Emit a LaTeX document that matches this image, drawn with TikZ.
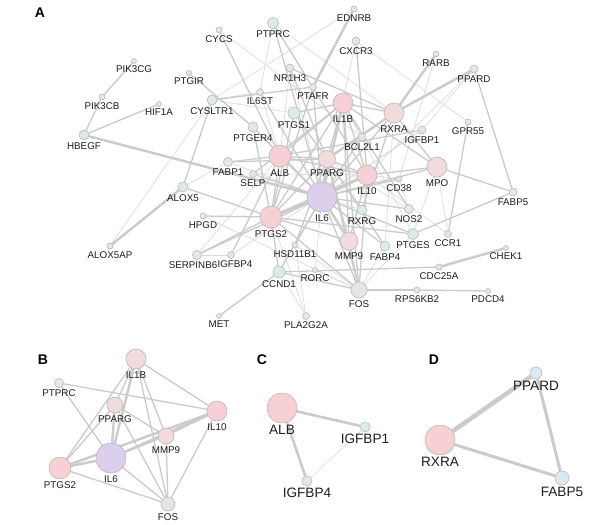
\documentclass[tikz,border=0pt]{standalone}
\usepackage{fontspec}
\setmainfont{Liberation Sans}
\usetikzlibrary{backgrounds}
\definecolor{pinkA}{RGB}{246,208,212}
\definecolor{pinkB}{RGB}{241,219,221}
\definecolor{lav}{RGB}{219,207,236}
\definecolor{tealn}{RGB}{221,234,231}
\definecolor{bluen}{RGB}{220,233,239}
\definecolor{fosg}{RGB}{229,229,229}
\definecolor{nline}{RGB}{178,178,178}
\definecolor{eline}{RGB}{203,203,203}
\definecolor{elight}{RGB}{220,220,220}
\definecolor{txt}{RGB}{30,30,30}
\tikzset{
  gene/.style={circle, draw=nline, line width=0.5pt, inner sep=0pt, minimum size=#1},
  labA/.style={font=\fontsize{9.8}{10}\selectfont, inner sep=1pt, text=txt},
  labC/.style={font=\fontsize{13.6}{14}\selectfont, inner sep=1pt, text=txt},
  panel/.style={font=\fontsize{14}{14}\selectfont\bfseries, text=black},
  eT/.style={draw=eline, line width=2.4pt},
  eM/.style={draw=eline, line width=1.3pt},
  eL/.style={draw=elight, line width=0.7pt},
}
\newcommand{\gA}[5]{\node[gene=#4*2pt, fill=#5, label={[labA]below:#1}] (#1) at (#2,#3) {};}
\begin{document}
\begin{tikzpicture}[x=1pt, y=-1pt, label distance=1pt]
\useasboundingbox (0,0) rectangle (600,525);
% ---------- Panel A ----------
\node[panel] (pA) at (40,13) {A};
\gA{CYCS}{219}{30}{3}{tealn}
\gA{PTPRC}{273}{23}{5.5}{tealn}
\gA{EDNRB}{354}{9}{3}{tealn}
\gA{CXCR3}{356}{41}{4}{tealn}
\gA{RARB}{436}{54}{3}{tealn}
\gA{PPARD}{474}{69}{4}{tealn}
\gA{GPR55}{468}{122}{3}{tealn}
\gA{PIK3CG}{134}{61}{2.5}{tealn}
\gA{PTGIR}{189}{73}{2.5}{tealn}
\gA{PIK3CB}{102}{97}{3}{tealn}
\gA{HIF1A}{159}{104}{2.5}{tealn}
\gA{CYSLTR1}{212}{100}{5}{tealn}
\gA{IL6ST}{260}{92}{3.5}{tealn}
\gA{NR1H3}{290}{68}{4}{tealn}
\gA{PTAFR}{313}{87}{3.5}{tealn}
\gA{PTGS1}{294}{113}{6}{tealn}
\gA{IL1B}{343}{103}{10}{pinkA}
\gA{RXRA}{394}{113}{10}{pinkB}
\gA{IGFBP1}{422}{130}{4}{tealn}
\gA{BCL2L1}{362}{137}{4}{tealn}
\gA{PTGER4}{253}{127}{5}{tealn}
\gA{HBEGF}{84}{135}{5}{tealn}
\gA{ALB}{280}{156}{11}{pinkA}
\gA{FABP1}{228}{162}{4.5}{tealn}
\gA{SELP}{253}{174}{3.5}{tealn}
\gA{PPARG}{327}{159}{8.5}{pinkB}
\gA{IL10}{367}{175}{10}{pinkA}
\gA{CD38}{399}{179}{3}{tealn}
\gA{MPO}{437}{167}{10}{pinkB}
\gA{IL6}{322}{197}{15}{lav}
\gA{PTGS2}{271}{217}{11}{pinkA}
\gA{RXRG}{362}{210}{5}{tealn}
\gA{NOS2}{409}{209}{4.5}{tealn}
\gA{FABP5}{513}{192}{4}{tealn}
\gA{ALOX5}{183}{187}{5}{tealn}
\gA{HPGD}{203}{216}{3}{tealn}
\gA{PTGES}{413}{234}{5.5}{tealn}
\gA{CCR1}{448}{234}{3.5}{tealn}
\gA{MMP9}{349}{241}{9}{pinkB}
\gA{FABP4}{385}{246}{5}{tealn}
\gA{HSD11B1}{295}{245}{3}{tealn}
\node[gene=9pt, fill=tealn, label={[labA, xshift=-4pt]below:SERPINB6}] (SERPINB6) at (197,255) {};
\node[gene=7pt, fill=tealn, label={[labA, xshift=4pt]below:IGFBP4}] (IGFBP4) at (231,255) {};
\gA{CCND1}{279}{272}{6}{tealn}
\gA{RORC}{315}{270}{2.5}{tealn}
\gA{FOS}{359}{290}{8}{fosg}
\gA{CDC25A}{439}{267}{3}{tealn}
\gA{CHEK1}{506}{248}{2.5}{tealn}
\gA{RPS6KB2}{417}{290}{3}{tealn}
\gA{PDCD4}{488}{291}{2.5}{tealn}
\gA{PLA2G2A}{306}{316}{3.5}{tealn}
\gA{MET}{219}{316}{2.5}{tealn}
\gA{ALOX5AP}{110}{246}{3}{tealn}
% ---------- Panel B ----------
\node[panel] (pB) at (43,360) {B};
\node[gene=20pt, fill=pinkB, label={[labA]below:IL1B}] (bIL1B) at (136,359) {};
\node[gene=9pt, fill=tealn, label={[labA]below:PTPRC}] (bPTPRC) at (59,383) {};
\node[gene=16pt, fill=pinkB, label={[labA]below:PPARG}] (bPPARG) at (115,405) {};
\node[gene=20pt, fill=pinkA, label={[labA]below:IL10}] (bIL10) at (217,411) {};
\node[gene=16pt, fill=pinkB, label={[labA]below:MMP9}] (bMMP9) at (166,436) {};
\node[gene=30pt, fill=lav, label={[labA]below:IL6}] (bIL6) at (111,458) {};
\node[gene=22pt, fill=pinkA, label={[labA]below:PTGS2}] (bPTGS2) at (60,468) {};
\node[gene=14pt, fill=fosg, label={[labA]below:FOS}] (bFOS) at (168,504) {};
% ---------- Panel C ----------
\node[panel] (pC) at (262,360) {C};
\node[gene=30pt, fill=pinkA, label distance=2pt, label={[labC]below:ALB}] (cALB) at (282,408) {};
\node[gene=10pt, fill=bluen, label distance=2pt, label={[labC]below:IGFBP1}] (cIGFBP1) at (365,427) {};
\node[gene=10pt, fill=bluen, label distance=2pt, label={[labC]below:IGFBP4}] (cIGFBP4) at (307,481) {};
% ---------- Panel D ----------
\node[panel] (pD) at (434,360) {D};
\node[gene=12pt, fill=bluen, label distance=2pt, label={[labC]below:PPARD}] (dPPARD) at (536,373) {};
\node[gene=30pt, fill=pinkA, label distance=4pt, label={[labC]below:RXRA}] (dRXRA) at (440,440) {};
\node[gene=14pt, fill=bluen, label distance=2pt, label={[labC]below:FABP5}] (dFABP5) at (562,478) {};
% ---------- Edges ----------
\begin{pgfonlayer}{background}
\fill[white] (0,0) rectangle (600,525);
\foreach \a/\b in {ALOX5AP/CYSLTR1, CYSLTR1/EDNRB, CXCR3/GPR55, CXCR3/IL6, RARB/CD38, PPARD/IGFBP1,
  IGFBP4/IGFBP1, HPGD/FOS, PLA2G2A/HSD11B1, PLA2G2A/CCND1, PLA2G2A/PTGS2, RORC/IL6, RORC/FOS,
  CCR1/IL10, CD38/NOS2, CD38/IL10, CCR1/MPO, PTPRC/IL6ST, PTPRC/RXRA, IL6ST/CYSLTR1, NR1H3/IL6,
  BCL2L1/IL1B, BCL2L1/PPARG, FABP1/IL6, ALOX5/FABP1, SELP/IL10, PTGES/IL1B, FABP4/RXRA, NOS2/PPARG,
  RXRG/IL6, HSD11B1/FOS, SERPINB6/IGFBP4, PTGS1/CYSLTR1, MPO/PTGES, FOS/PTGES, FABP4/FOS,
  IGFBP1/IL6, CYCS/BCL2L1, NR1H3/ALB, PTGER4/ALB, IL6ST/ALB, SERPINB6/ALB, PPARD/IL10}
  \draw[eL] (\a) -- (\b);
\foreach \a/\b in {PIK3CG/PIK3CB, PIK3CB/HBEGF, HBEGF/HIF1A, CYSLTR1/ALOX5, CYSLTR1/PTAFR,
  PTGIR/PTGER4, CYCS/ALB, PTPRC/IL6, PTPRC/IL10, CXCR3/IL10, MPO/FABP5, MPO/IL6, MPO/IL1B, MPO/IL10,
  FABP5/PTGES, PPARD/FABP5, GPR55/CCR1, CDC25A/CCND1, RPS6KB2/PDCD4, FOS/CCND1, FOS/MMP9, FOS/IL6,
  FOS/PTGS2, FOS/IL1B, FOS/IL10, FOS/PPARG, CCND1/PTGS2, CCND1/IL6, MET/CCND1, HSD11B1/IL6,
  HSD11B1/PPARG, SERPINB6/PTGS2, SERPINB6/IL6, IGFBP4/ALB, IGFBP1/ALB, HPGD/PTGS2, ALOX5/PTGS2,
  FABP1/ALB, FABP1/PPARG, SELP/IL6, SELP/IL1B, PTGER4/PTGS2, PTGER4/IL6, PTGS1/PTGS2, PTGS1/IL1B,
  IL6ST/IL6, NR1H3/PPARG, NR1H3/RXRA, PTAFR/IL6, PTAFR/PTGS2, BCL2L1/IL6, CD38/IL6, NOS2/IL6,
  NOS2/IL1B, RXRG/RXRA, RXRG/PPARG, PTGES/PTGS2, PTGES/IL6, FABP4/PPARG, FABP4/IL6, MMP9/IL1B,
  MMP9/IL10, MMP9/PTGS2, MMP9/PPARG, ALB/PTGS2, ALB/IL1B, ALB/IL10, ALB/PPARG, IL1B/IL10,
  IL1B/PTGS2, IL1B/PPARG, IL1B/RXRA, PPARG/PTGS2, PPARG/IL10, MPO/RXRA, IL6/RXRA, IL6/ALB,
  PTGS1/PPARG}
  \draw[eM] (\a) -- (\b);
\foreach \a/\b in {IL6/PTGS2, IL6/IL10, IL6/IL1B, IL6/PPARG, PTGS2/IL10, IL6/MMP9, HBEGF/IL6,
  ALOX5AP/ALOX5, RARB/RXRA, PPARD/RXRA, CHEK1/CDC25A, FOS/RPS6KB2, EDNRB/PTAFR, PPARG/RXRA}
  \draw[eT] (\a) -- (\b);
% panel B
\foreach \a/\b in {bPTPRC/bIL10, bPTPRC/bIL6, bIL1B/bPTGS2, bIL1B/bPPARG, bIL1B/bMMP9, bIL1B/bIL10,
  bIL1B/bFOS, bPPARG/bMMP9, bPPARG/bFOS, bPPARG/bPTGS2, bIL10/bFOS, bIL10/bMMP9, bMMP9/bIL6,
  bMMP9/bFOS, bPTGS2/bFOS, bIL6/bFOS}
  \draw[eM] (\a) -- (\b);
\foreach \a/\b in {bIL6/bIL10, bPTGS2/bIL10, bPTGS2/bIL6, bPPARG/bIL6, bIL1B/bIL6}
  \draw[eT] (\a) -- (\b);
% panel C
\draw[eline, line width=2.6pt] (cALB) -- (cIGFBP1);
\draw[eline, line width=2.6pt] (cALB) -- (cIGFBP4);
\draw[elight, line width=0.6pt] (cIGFBP1) -- (cIGFBP4);
% panel D
\draw[eline, line width=4.5pt] (dRXRA) -- (dPPARD);
\draw[eline, line width=3pt] (dRXRA) -- (dFABP5);
\draw[eline, line width=3pt] (dPPARD) -- (dFABP5);
\end{pgfonlayer}
\end{tikzpicture}
\end{document}
